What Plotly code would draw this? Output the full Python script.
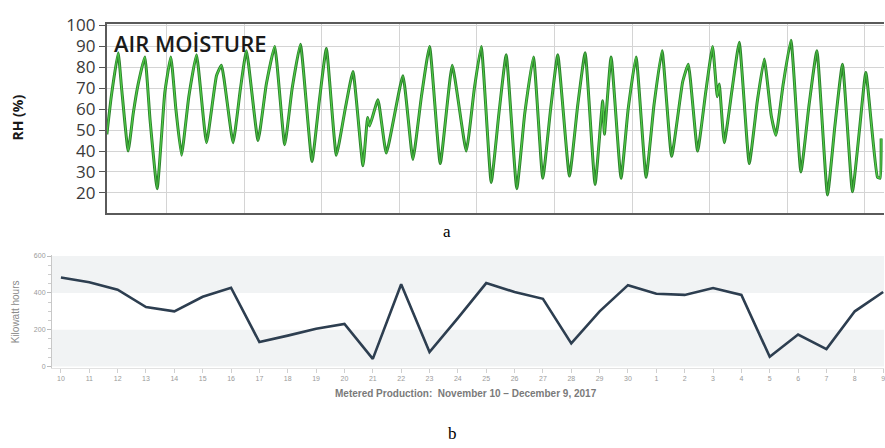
import plotly.graph_objects as go

# ---- Panel a: air moisture (RH %) ----
rh_day = [0.680, 0.85, 1.117, 1.25, 1.504, 1.70, 1.890, 2.149, 2.35, 2.625, 2.922, 3.154, 3.35, 3.568, 3.85, 4.148,
          4.534, 4.921, 5.114, 5.562, 5.85, 6.080, 6.529, 6.85, 7.174, 7.561, 7.85, 8.168, 8.616,
          8.90, 9.173, 9.559, 9.90, 10.201, 10.588, 10.769, 10.847, 11.168, 11.492, 12.134, 12.520,
          12.85, 13.166, 13.580, 14.044, 14.585, 14.90, 15.165, 15.551, 15.85, 16.131, 16.541, 16.85, 17.186, 17.546,
          17.85, 18.126, 18.578, 18.90, 19.185, 19.571, 19.865, 19.931, 20.190, 20.576, 20.85, 21.156, 21.543,
          21.85, 22.161, 22.532, 22.958, 23.178, 23.537, 23.85, 24.117, 24.299, 24.376, 24.569, 24.878,
          25.149, 25.536, 25.85, 26.116, 26.386, 26.568, 26.85, 27.148, 27.535, 27.85, 28.153, 28.563, 28.85, 29.143,
          29.529, 29.80, 30.047, 30.496, 30.600, 30.639]
rh_val = [48, 66, 87, 70, 40, 58, 72, 85, 55, 22, 68, 85, 60, 38, 66, 86,
          44, 76, 81, 44, 70, 88, 45, 72, 90, 43, 70, 91, 35,
          64, 89, 38, 60, 78, 33, 56, 52, 64.5, 39, 76, 36,
          66, 90, 34, 81, 40, 70, 90, 25, 58, 86, 22, 58, 85, 27,
          60, 86, 28, 62, 87, 24, 64, 48, 85, 27, 60, 85, 27.5,
          62, 88, 37.5, 73, 81.5, 40, 68, 90, 66, 72, 44, 70,
          92, 34, 64, 84, 57, 47.5, 72, 93, 30, 62, 88, 19, 52, 81.5,
          20.5, 50, 77.6, 27.5, 27, 46]
rh_ticks = [20, 30, 40, 50, 60, 70, 80, 90, 100]
rh_grid_days = [3, 6, 9, 12, 15, 18, 21, 24, 27, 30]

# ---- Panel b: metered production ----
prod_labels = ["10", "11", "12", "13", "14", "15", "16", "17", "18", "19", "20", "21",
               "22", "23", "24", "25", "26", "27", "28", "29", "30",
               "1", "2", "3", "4", "5", "6", "7", "8", "9"]
prod_kwh = [484, 458, 417, 323, 300, 379, 428, 133, 168, 205, 231, 42,
            447, 79, 263, 453, 405, 368, 126, 300, 442,
            395, 389, 426, 389, 53, 174, 95, 300, 405]
kwh_ticks = [0, 200, 400, 600]

W, H = 885, 448
fig = go.Figure()

# panel a traces (outlined green line)
line_shape = dict(shape="spline", smoothing=0.4)
fig.add_trace(go.Scatter(x=rh_day, y=rh_val, mode="lines", xaxis="x", yaxis="y",
                         line=dict(color="rgb(45,130,45)", width=3, **line_shape),
                         hoverinfo="skip", showlegend=False))
fig.add_trace(go.Scatter(x=rh_day, y=rh_val, mode="lines", xaxis="x", yaxis="y",
                         line=dict(color="rgb(80,205,70)", width=1.2, **line_shape),
                         showlegend=False))

# panel b trace
xi = list(range(len(prod_kwh)))
fig.add_trace(go.Scatter(x=xi, y=prod_kwh, mode="lines", xaxis="x2", yaxis="y2",
                         line=dict(color="rgb(45,62,80)", width=2.6),
                         showlegend=False))

# bands for panel b
for lo, hi, col in [(0, 200, "#f1f3f4"), (400, 600, "#f1f3f4")]:
    fig.add_shape(type="rect", xref="x2 domain", yref="y2", x0=0, x1=1, y0=lo, y1=hi,
                  fillcolor=col, line=dict(width=0), layer="below")

top_dom_y = [1 - 208 / H, 1 - 13.5 / H]
bot_dom_y = [1 - 368 / H, 1 - 252 / H]

fig.update_layout(
    width=W, height=H,
    margin=dict(l=0, r=0, t=0, b=0),
    paper_bgcolor="white", plot_bgcolor="white",
    xaxis=dict(domain=[107 / W, 1], range=[0.68, 30.75],
               tickvals=rh_grid_days, showticklabels=False, ticks="",
               showgrid=True, gridcolor="#d4d4d4", gridwidth=1, zeroline=False,
               showline=True, mirror=True, linecolor="#5a5a5a", linewidth=2),
    yaxis=dict(domain=top_dom_y, range=[10.6, 100.7], tickvals=rh_ticks,
               ticks="outside", ticklen=6, tickcolor="#555", tickwidth=1.2,
               tickfont=dict(family="Open Sans", size=17, color="#3a3a3a"),
               showgrid=True, gridcolor="#d4d4d4", gridwidth=1, zeroline=False,
               showline=True, mirror=False, linecolor="#5a5a5a", linewidth=2),
    xaxis2=dict(domain=[52 / W, 1], range=[-0.317, 29.03], anchor="y2",
                tickvals=xi, ticktext=prod_labels, ticks="outside", ticklen=4,
                ticklabeloverflow="allow",
                tickcolor="#cfcfcf", tickfont=dict(family="Liberation Sans", size=7, color="#9a9a9a"),
                showgrid=False, zeroline=False, showline=True, linecolor="#e2e2e2", linewidth=1),
    yaxis2=dict(domain=bot_dom_y, range=[-5, 605], anchor="x2", tickvals=kwh_ticks,
                ticks="outside", ticklen=4, tickcolor="#bbbbbb",
                tickfont=dict(family="Liberation Sans", size=7, color="#9a9a9a"),
                minor=dict(ticks="outside", ticklen=3, tickcolor="#cccccc", dtick=50, showgrid=False),
                showgrid=False, zeroline=False, showline=True, linecolor="#c8c8c8", linewidth=1),
)

ann = [
    dict(text="AIR MOİSTURE", x=112, y=33, xanchor="left", yanchor="middle",
         font=dict(family="Open Sans", size=22, color="#1a1a1a", weight=600)),
    dict(text="<b>RH (%)</b>", x=18, y=110, textangle=-90, xanchor="center", yanchor="middle",
         font=dict(family="Open Sans", size=14, color="#1a1a1a")),
    dict(text="a", x=448, y=228, xanchor="center", yanchor="middle",
         font=dict(family="Liberation Serif", size=17, color="black")),
    dict(text="Kilowatt hours", x=15, y=310, textangle=-90, xanchor="center", yanchor="middle",
         font=dict(family="Liberation Sans", size=10, color="#8a8a8a")),
    dict(text="<b>Metered Production:  November 10 – December 9, 2017</b>", x=467, y=395,
         xanchor="center", yanchor="middle",
         font=dict(family="Liberation Sans", size=10, color="#7a7a7a")),
    dict(text="b", x=453, y=436, xanchor="center", yanchor="middle",
         font=dict(family="Liberation Serif", size=17, color="black")),
]
for a in ann:
    px, py = a.pop("x"), a.pop("y")
    fig.add_annotation(x=px / W, y=1 - py / H, xref="paper", yref="paper", showarrow=False, **a)

fig.write_html("out.html", config={"displayModeBar": False},
               post_script="document.body.style.margin='0';document.body.style.overflow='hidden';")
